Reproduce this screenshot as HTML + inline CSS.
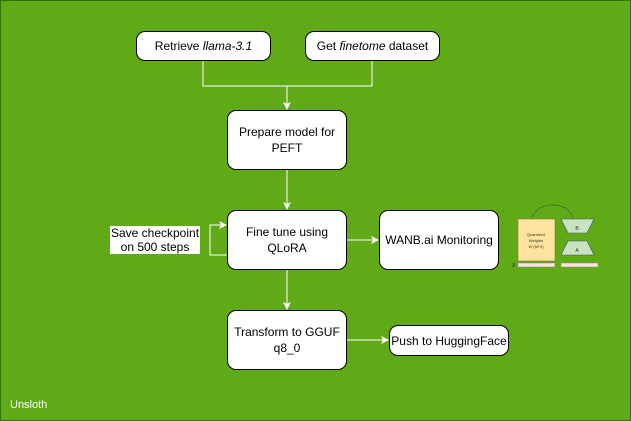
<!DOCTYPE html>
<html><head><style>
body{margin:0;width:631px;height:421px;overflow:hidden;background:#60a917;font-family:"Liberation Sans",sans-serif}
.f{position:absolute;left:0;top:0;width:629px;height:419px;border:1px solid #2d7600;background:#60a917}
.b{position:absolute;background:#fff;border:1.5px solid #000;border-radius:9px;display:flex;align-items:center;justify-content:center;text-align:center;font-size:12px;line-height:16px;color:#000;box-sizing:border-box}
</style></head><body>
<div class="f"></div>
<svg style="position:absolute;left:0;top:0" width="631" height="421">
<defs><marker id="a" markerWidth="8" markerHeight="8" refX="7" refY="4" orient="auto" markerUnits="userSpaceOnUse"><path d="M0,0L8,4L0,8L2,4z" fill="#fff"/></marker></defs>
<g stroke="#fff" stroke-width="1" fill="none">
<path d="M203,61V86H372V61"/>
<path d="M287,86V109" marker-end="url(#a)"/>
<path d="M287,170V209" marker-end="url(#a)"/>
<path d="M347,240H378" marker-end="url(#a)"/>
<path d="M287,270V309" marker-end="url(#a)"/>
<path d="M347,340H388" marker-end="url(#a)"/>
<path d="M227,255H210V225H226" marker-end="url(#a)"/>
</g>
<g>
<path d="M532,220 A19,14 0 0 1 573,220" stroke="#333" stroke-width="0.6" fill="none" stroke-dasharray="2,1"/>
<rect x="518" y="219" width="37" height="42" fill="#fde39b" stroke="#8a7a40" stroke-width="0.6"/>
<polygon points="561,219 594,219 587,233 568,233" fill="#c8e3c0" stroke="#456" stroke-width="0.6"/>
<polygon points="568,241 587,241 594,255 561,255" fill="#c8e3c0" stroke="#456" stroke-width="0.6"/>
<rect x="518" y="263" width="37" height="4" fill="#fbe6dc" stroke="#888" stroke-width="0.5"/>
<rect x="561" y="263" width="37" height="4" fill="#fbe6dc" stroke="#888" stroke-width="0.5"/>
<text x="536" y="236" font-size="4" text-anchor="middle" fill="#333">Quantized</text>
<text x="536" y="242" font-size="4" text-anchor="middle" fill="#333">Weights</text>
<text x="536" y="248" font-size="4" text-anchor="middle" fill="#333">W (NF4)</text>
<text x="577" y="230" font-size="5" text-anchor="middle" fill="#333">B</text>
<text x="577" y="252" font-size="5" text-anchor="middle" fill="#333">A</text>
<text x="512" y="267" font-size="5" fill="#222">X</text>
</g>
</svg>
<div class="b" style="left:136px;top:31px;width:135px;height:30px">Retrieve&nbsp;<i>llama-3.1</i></div>
<div class="b" style="left:305px;top:31px;width:135px;height:30px">Get&nbsp;<i>finetome</i>&nbsp;dataset</div>
<div class="b" style="left:227px;top:110px;width:120px;height:60px">Prepare model for<br>PEFT</div>
<div class="b" style="left:227px;top:210px;width:120px;height:60px">Fine tune using<br>QLoRA</div>
<div class="b" style="left:379px;top:210px;width:120px;height:60px">WANB.ai Monitoring</div>
<div class="b" style="left:227px;top:310px;width:120px;height:60px">Transform to GGUF<br>q8_0</div>
<div class="b" style="left:389px;top:325px;width:120px;height:31px">Push to HuggingFace</div>
<div style="position:absolute;left:110px;top:226px;width:90px;height:28px;background:#fff;font-size:12px;line-height:14px;text-align:center;color:#000;white-space:nowrap">Save checkpoint<br>on 500 steps</div>
<div style="position:absolute;left:10px;top:399px;font-size:11px;color:#fff">Unsloth</div>
</body></html>
